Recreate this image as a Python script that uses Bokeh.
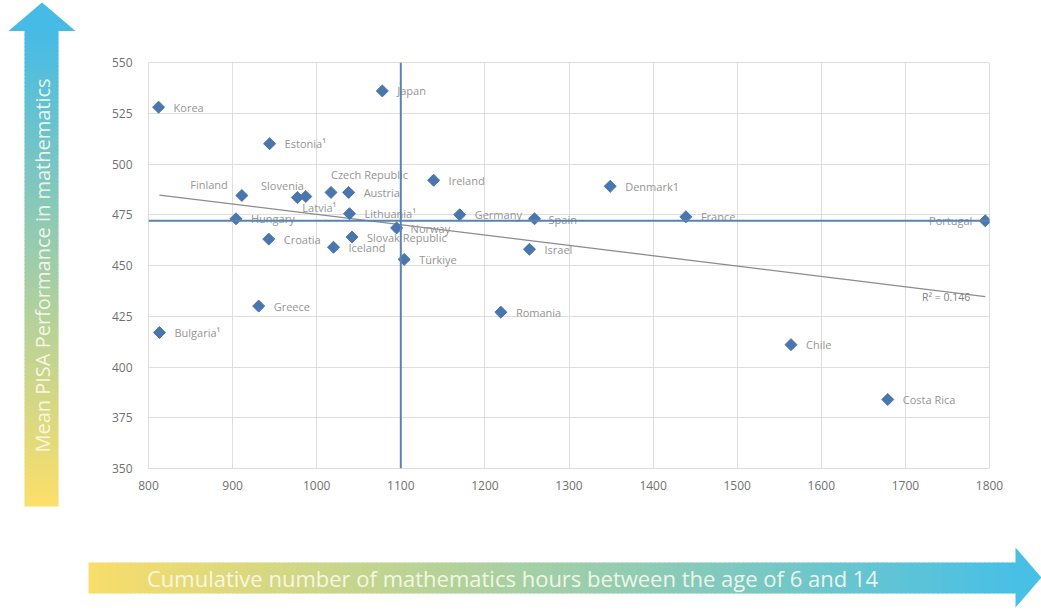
import numpy as np
from bokeh.plotting import figure
from bokeh.layouts import column, row
from bokeh.models import ColumnDataSource, Span, Label, FixedTicker, Range1d
from bokeh.core.properties import value
from bokeh.embed import file_html
from bokeh.resources import INLINE

# ---------------- data ----------------
countries = ["Korea", "Japan", "Estonia¹", "Finland", "Slovenia", "Latvia¹",
             "Czech Republic", "Austria", "Lithuania¹", "Hungary", "Norway",
             "Croatia", "Slovak Republic", "Iceland", "Türkiye", "Ireland",
             "Denmark1", "Germany", "Spain", "France", "Israel", "Portugal",
             "Greece", "Bulgaria¹", "Romania", "Chile", "Costa Rica"]
hours = [812, 1078, 944, 911, 987, 977, 1017, 1038, 1039, 904, 1095,
         943, 1042, 1020, 1104, 1139, 1349, 1170, 1259, 1439, 1253, 1795,
         931, 813, 1219, 1564, 1679]
scores = [528, 536, 510, 484.5, 484, 483.5, 486, 486, 475.5, 473, 468.5,
          463, 464, 459, 453, 492, 489, 475, 473, 474, 458, 472,
          430, 417, 427, 411, 384]
trend_x = [813, 1795]
trend_y = [484.7, 434.7]
r2_text = "R² = 0.146"
mean_score = 472
hours_threshold = 1100
x_ticks = [800, 900, 1000, 1100, 1200, 1300, 1400, 1500, 1600, 1700, 1800]
y_ticks = [350, 375, 400, 425, 450, 475, 500, 525, 550]
x_title = "Cumulative number of mathematics hours between the age of 6 and 14"
y_title = "Mean PISA Performance in mathematics"

# label placement (style)
label_style = {
    "Finland": ("right", -14, -11),
    "Slovenia": ("right", -2, -11),
    "Latvia¹": ("left", 5, 10),
    "Czech Republic": ("left", 0, -18),
    "Portugal": ("right", -13, 0),
    "Norway": ("left", 14, 1),
    "Spain": ("left", 14, 1),
}
aligns, dxs, dys = [], [], []
for c in countries:
    a, dx, dy = label_style.get(c, ("left", 15, 0))
    aligns.append(a); dxs.append(dx); dys.append(dy)

FONT = value("Open Sans")
BLUE = "#4a76ae"
LINE_BLUE = "#5a82b2"
GRID = "#dedede"

src = ColumnDataSource(dict(hours=hours, scores=scores, label=countries,
                            align=aligns, dx=dxs, dy=dys))

# ---------------- main figure ----------------
p = figure(width=953, height=520, output_backend="svg", toolbar_location=None,
           x_range=Range1d(800, 1800), y_range=Range1d(350, 550),
           min_border_left=60, min_border_right=52, min_border_top=62,
           min_border_bottom=52)
p.frame_align = False
p.xaxis.ticker = FixedTicker(ticks=x_ticks)
p.yaxis.ticker = FixedTicker(ticks=y_ticks)
for ax in (p.xaxis[0], p.yaxis[0]):
    ax.axis_line_color = None
    ax.major_tick_line_color = None
    ax.minor_tick_line_color = None
    ax.major_label_text_font = "Open Sans"
    ax.major_label_text_font_size = "12px"
    ax.major_label_text_color = "#707070"
p.xaxis.major_label_standoff = 6
p.yaxis.major_label_standoff = 10
p.xgrid.grid_line_color = GRID
p.ygrid.grid_line_color = GRID
p.outline_line_color = GRID
p.background_fill_color = "white"
p.border_fill_color = "white"

p.line(trend_x, trend_y, line_color="#8c8c8c", line_width=1.3)
p.text(x="hours", y="scores", text="label", source=src,
       x_offset="dx", y_offset="dy", text_align="align",
       text_baseline="middle", text_font=FONT, text_font_size="11px",
       text_color="#959595")
p.scatter(x="hours", y="scores", source=src, marker="square", angle=np.pi / 4,
          size=8.5, fill_color=BLUE, line_color=BLUE)
p.add_layout(Span(location=mean_score, dimension="width",
                  line_color=LINE_BLUE, line_width=2))
p.add_layout(Span(location=hours_threshold, dimension="height",
                  line_color=LINE_BLUE, line_width=2))
p.add_layout(Label(x=trend_x[-1], y=trend_y[-1], text=r2_text,
                   text_align="right", text_baseline="middle",
                   x_offset=-15, y_offset=0, text_font="Open Sans",
                   text_font_size="10.5px", text_color="#808080"))


def hexrgb(h):
    h = h.lstrip("#")
    return np.array([int(h[i:i + 2], 16) for i in (0, 2, 4)], dtype=float)


def blend(c1, c2, n):
    a, b = hexrgb(c1), hexrgb(c2)
    out = []
    for t in np.linspace(0, 1, n):
        c = a + (b - a) * t
        out.append("#%02x%02x%02x" % tuple(int(round(v)) for v in c))
    return out


def deco_fig(w, h, xr, yr):
    f = figure(width=w, height=h, output_backend="svg", toolbar_location=None,
               x_range=Range1d(*xr), y_range=Range1d(*yr),
               min_border=0, min_border_left=0, min_border_right=0,
               min_border_top=0, min_border_bottom=0)
    f.frame_align = False
    f.axis.visible = False
    f.grid.visible = False
    f.outline_line_color = None
    f.background_fill_color = "white"
    f.border_fill_color = "white"
    return f


# ---------------- left arrow ----------------
left = deco_fig(88, 520, (0, 88), (520, 0))
n = 120
edges = np.linspace(30, 505, n + 1)
cols = blend("#46bbe6", "#fbdf6a", n)
left.quad(left=24, right=58, top=edges[:-1], bottom=edges[1:] + 1.0,
          fill_color=cols, line_color=None)
left.patch([8, 75, 41.5], [30.5, 30.5, 2], fill_color="#46bbe6", line_color=None)
left.text(x=[42], y=[265], text=[y_title], angle=np.pi / 2,
          text_align="center", text_baseline="middle", text_font=FONT,
          text_font_size="20px", text_color="#fdfbee", text_alpha=0.9)

# ---------------- bottom arrow ----------------
bottom = deco_fig(1041, 91, (0, 1041), (611, 520))
n = 200
xe = np.linspace(88, 1016, n + 1)
cols = blend("#f8dd6a", "#48c0e6", n)
bottom.quad(left=xe[:-1], right=xe[1:] + 1.0, top=562, bottom=593,
            fill_color=cols, line_color=None)
bottom.patch([1015, 1041, 1015], [547, 577, 607], fill_color="#48c0e6",
             line_color=None)
bottom.text(x=[512], y=[577], text=[x_title], text_align="center",
            text_baseline="middle", text_font=FONT, text_font_size="22px",
            text_color="#fdfbee", text_alpha=0.9)

layout = column(row(left, p), bottom)
open("out.html", "w").write(file_html(layout, INLINE))
